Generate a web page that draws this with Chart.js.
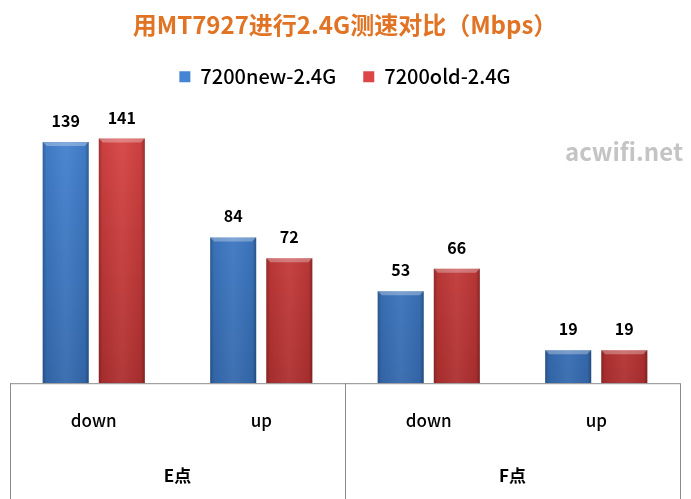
<!DOCTYPE html>
<html>
<head>
<meta charset="utf-8">
<script src="https://cdn.jsdelivr.net/npm/chart.js@4"></script>
<style>
  html, body { margin: 0; padding: 0; background: #fff; }
  #wrap { width: 691px; height: 499px; }
</style>
</head>
<body>
<div id="wrap"><canvas id="c"></canvas></div>
<script>
// chart data
const groups = ['E点', 'F点'];
const categories = ['down', 'up', 'down', 'up'];
const newValues = [139, 84, 53, 19];
const oldValues = [141, 72, 66, 19];
const seriesNames = ['7200new-2.4G', '7200old-2.4G'];

const FONT = "'Noto Sans CJK SC', 'Noto Sans', sans-serif";

// vertical shading on each bar
function barFill(top, bottom) {
  return function (ctx) {
    const area = ctx.chart.chartArea;
    if (!area) return top;
    const g = ctx.chart.ctx.createLinearGradient(0, area.top, 0, area.bottom);
    g.addColorStop(0, top);
    g.addColorStop(1, bottom);
    return g;
  };
}

// shading, value labels, bottom box and watermark
const decorations = {
  id: 'decorations',
  afterDatasetsDraw(chart) {
    const ctx = chart.ctx;
    const area = chart.chartArea;
    ctx.save();
    chart.data.datasets.forEach((ds, di) => {
      const meta = chart.getDatasetMeta(di);
      meta.data.forEach((bar, i) => {
        const left = bar.x - bar.width / 2;
        const h = bar.base - bar.y;
        // darker edges, lighter middle
        const g = ctx.createLinearGradient(left, 0, left + bar.width, 0);
        g.addColorStop(0, 'rgba(0,0,0,0.25)');
        g.addColorStop(0.08, 'rgba(0,0,0,0.05)');
        g.addColorStop(0.5, 'rgba(255,255,255,0.05)');
        g.addColorStop(0.92, 'rgba(0,0,0,0.05)');
        g.addColorStop(1, 'rgba(0,0,0,0.3)');
        ctx.fillStyle = g;
        ctx.fillRect(left, bar.y, bar.width, h);
        // bevelled top
        ctx.fillStyle = 'rgba(255,255,255,0.3)';
        ctx.beginPath();
        ctx.moveTo(left, bar.y);
        ctx.lineTo(left + bar.width, bar.y);
        ctx.lineTo(left + bar.width - 4, bar.y + 4);
        ctx.lineTo(left + 4, bar.y + 4);
        ctx.closePath();
        ctx.fill();
        // value
        ctx.fillStyle = '#000';
        ctx.font = 'bold 16px ' + FONT;
        ctx.textAlign = 'center';
        ctx.textBaseline = 'middle';
        ctx.fillText(ds.data[i], bar.x, bar.y - 21);
      });
    });

    // category box below the bars
    const x = chart.scales.x;
    const half = (x.getPixelForValue(1) - x.getPixelForValue(0)) / 2;
    const edges = [area.left, x.getPixelForValue(1) + half, area.right];
    ctx.strokeStyle = '#8c8c8c';
    ctx.lineWidth = 1;
    ctx.beginPath();
    ctx.moveTo(area.left, area.bottom + 0.5);
    ctx.lineTo(area.right, area.bottom + 0.5);
    edges.forEach(e => {
      ctx.moveTo(Math.round(e) + 0.5, area.bottom);
      ctx.lineTo(Math.round(e) + 0.5, chart.height);
    });
    ctx.stroke();

    // watermark
    ctx.fillStyle = '#c4c4c4';
    ctx.font = 'bold 24px ' + FONT;
    ctx.textAlign = 'right';
    ctx.textBaseline = 'middle';
    ctx.fillText('acwifi.net', 683, 152);
    ctx.restore();
  }
};

new Chart(document.getElementById('c'), {
  type: 'bar',
  data: {
    labels: categories,
    datasets: [{
      label: seriesNames[0],
      data: newValues,
      backgroundColor: barFill('#4585d4', '#3469ae')
    }, {
      label: seriesNames[1],
      data: oldValues,
      backgroundColor: barFill('#dc4646', '#ae2f2f')
    }]
  },
  options: {
    responsive: true,
    maintainAspectRatio: false,
    animation: false,
    categoryPercentage: 0.67,
    barPercentage: 0.82,
    layout: { padding: { left: 10, right: 11, top: 0, bottom: 5 } },
    plugins: {
      title: {
        display: true,
        text: '用MT7927进行2.4G测速对比（Mbps）',
        color: '#e07424',
        font: { family: FONT, size: 24, weight: 'bold' },
        padding: { top: 10, bottom: 1 }
      },
      legend: {
        labels: {
          color: '#000',
          font: { family: FONT, size: 20, weight: '500' },
          boxWidth: 11,
          boxHeight: 11,
          padding: 27
        }
      },
      tooltip: { enabled: false }
    },
    scales: {
      y: { display: false, min: 0, max: 165 },
      x: {
        grid: { display: false, drawTicks: false },
        border: { display: false },
        ticks: { color: '#000', font: { family: FONT, size: 17, weight: '500' }, padding: 27 }
      },
      x2: {
        type: 'category',
        labels: groups,
        position: 'bottom',
        offset: true,
        grid: { display: false, drawTicks: false },
        border: { display: false },
        ticks: { color: '#000', font: { family: FONT, size: 17, weight: 'bold' }, padding: 8 }
      }
    }
  },
  plugins: [decorations]
});
</script>
</body>
</html>
